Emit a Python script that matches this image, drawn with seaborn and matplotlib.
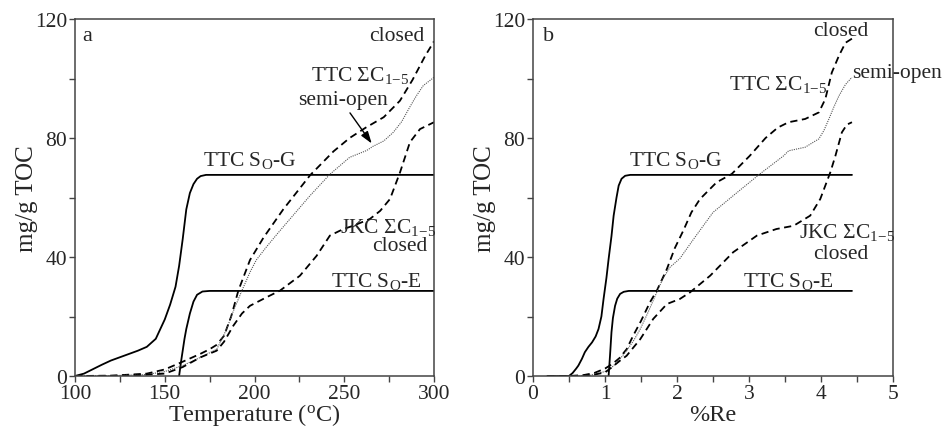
import matplotlib
matplotlib.use("Agg")
import matplotlib.pyplot as plt
from matplotlib.ticker import MultipleLocator
import seaborn as sns

# ---- panel a: yields vs temperature (deg C) ----
t_sog = [100, 105, 110, 115, 120, 125, 130, 135, 140, 145, 150, 153, 156, 158, 160, 162,
         164, 166, 168, 170, 173, 300]
sog_a = [0, 0.8, 2.3, 3.8, 5.2, 6.3, 7.4, 8.5, 9.8, 12.5, 19, 24, 30, 37, 46, 56,
         61.5, 64.5, 66.3, 67.2, 67.6, 67.6]

t_soe = [158, 159, 160, 161, 162, 164, 166, 168, 171, 175, 300]
soe_a = [0, 4.5, 8.5, 12.5, 15.8, 21, 25, 27.3, 28.4, 28.6, 28.6]

t_closed = [100, 120, 140, 150, 160, 170, 175, 179, 183, 187, 191, 197.5, 205, 216, 231,
            244, 253, 262, 272, 281, 288, 295, 300]
closed_a = [0, 0.1, 0.8, 2.2, 4.8, 7.5, 9, 10.5, 13.5, 20, 28.7, 39, 46.5, 56, 67.5,
            75.5, 80, 83.5, 87, 92.5, 99.5, 107.5, 112.5]

t_semi = [100, 120, 140, 150, 160, 170, 179, 184.5, 188, 192.9, 197.5, 201, 206.8, 213,
          219.8, 230.9, 242, 253, 262.5, 266, 272, 277.3, 282, 286.6, 290, 294, 300]
semi_a = [0, 0.1, 0.5, 1.5, 3.5, 6.3, 9, 15.8, 21.5, 28.6, 34.9, 39, 43.5, 48,
          52.8, 60.6, 67.8, 73.5, 75.8, 77.2, 79, 81.9, 85.5, 90.5, 94, 97.6, 100.4]

t_jkc = [100, 130, 150, 160, 170, 178.9, 183, 188.2, 193, 197.5, 206.8, 214.2, 225.3,
         234.6, 242, 249.5, 255, 264.3, 270, 275.5, 281.1, 286.6, 292.2, 300]
jkc_a = [0, 0.1, 0.8, 3, 6.3, 8.5, 11.5, 16.9, 21, 23.6, 26.5, 28.7, 33.7,
         40.4, 47.2, 49.4, 50.5, 52.8, 55.5, 59.5, 68.5, 78.6, 83, 85.3]

# ---- panel b: yields vs vitrinite reflectance (%Re) ----
re_sog = [0.2, 0.5, 0.55, 0.6, 0.63, 0.68, 0.72, 0.77, 0.82, 0.87, 0.91, 0.95, 0.98, 1.02,
          1.05, 1.09, 1.12, 1.16, 1.19, 1.23, 1.28, 1.35, 1.45, 4.43]
sog_b = [0, 0, 1, 2.5, 3.5, 5.8, 8, 9.8, 11.3, 13.3, 15.8, 20, 25.9, 33,
         39.3, 47, 53.9, 60, 64, 66.3, 67.3, 67.6, 67.6, 67.6]

re_soe = [1.05, 1.07, 1.09, 1.11, 1.14, 1.17, 1.21, 1.26, 1.33, 4.43]
soe_b = [0, 7, 14.7, 19.5, 23.6, 26, 27.6, 28.3, 28.6, 28.6]

re_closed = [0.2, 0.5, 0.7, 0.85, 1.0, 1.1, 1.2, 1.3, 1.39, 1.5, 1.625, 1.72, 1.86, 1.97,
             2.09, 2.2, 2.32, 2.55, 2.76, 3.01, 3.23, 3.4, 3.55, 3.78, 3.97, 4.06, 4.15,
             4.25, 4.34, 4.43]
closed_b = [0, 0, 0.3, 1, 2.5, 4, 6, 9, 13.5, 18.5, 24.8, 28.7, 36, 43,
            49, 55, 59.5, 65.1, 67.9, 74, 80, 83.5, 85.3, 86.4, 88.6, 93.1, 102,
            107.7, 112, 113.4]

re_semi = [0.2, 0.6, 0.8, 1.0, 1.1, 1.2, 1.3, 1.4, 1.49, 1.6, 1.72, 1.8, 1.9, 2.04, 2.23,
           2.5, 2.78, 3.15, 3.48, 3.55, 3.78, 3.97, 4.04, 4.11, 4.18, 4.25, 4.34, 4.43]
semi_b = [0, 0, 0.3, 1.5, 3, 5.5, 8.5, 12, 15.8, 21.5, 28.2, 32.5, 36.5, 39.5, 46,
          55, 60.6, 67.9, 74, 75.7, 76.9, 79.7, 82.5, 86.4, 90.5, 94.2, 98, 100.4]

re_jkc = [0.2, 0.6, 0.8, 1.0, 1.1, 1.2, 1.3, 1.49, 1.67, 1.86, 2.04, 2.18, 2.46, 2.78,
          3.11, 3.38, 3.62, 3.85, 3.99, 4.06, 4.13, 4.2, 4.29, 4.36, 4.43]
jkc_b = [0, 0, 0.2, 1.2, 3, 5, 6.8, 12.4, 19.2, 24.2, 25.9, 28.1, 33.7, 41.6,
         47.2, 49.4, 50.5, 53.9, 59.5, 64, 68.5, 74, 81.9, 84.5, 85.3]

sns.set_theme(style="ticks")
plt.rcParams["font.family"] = ["Liberation Serif", "DejaVu Serif"]
plt.rcParams["mathtext.fontset"] = "custom"
plt.rcParams["mathtext.rm"] = "Liberation Serif"
plt.rcParams["mathtext.it"] = "Liberation Serif:italic"
plt.rcParams["mathtext.bf"] = "Liberation Serif:bold"

fig = plt.figure(figsize=(9.44, 4.27), dpi=100)
ax_a = fig.add_axes([75 / 944, 50 / 427, 359 / 944, 357 / 427])
ax_b = fig.add_axes([533 / 944, 50 / 427, 360 / 944, 357 / 427])

SOLID = dict(color="black", lw=1.3, linestyle="-")
DASH = dict(color="black", lw=1.3, linestyle=(0, (4, 2.5)))
DOT = dict(color="#555555", lw=0.8, linestyle=(0, (1, 1)))


def draw(ax, xs, ys, style):
    sns.lineplot(x=xs, y=ys, ax=ax, sort=False, estimator=None, **style)


draw(ax_a, t_sog, sog_a, SOLID)
draw(ax_a, t_soe, soe_a, SOLID)
draw(ax_a, t_closed, closed_a, DASH)
draw(ax_a, t_semi, semi_a, DOT)
draw(ax_a, t_jkc, jkc_a, DASH)

draw(ax_b, re_sog, sog_b, SOLID)
draw(ax_b, re_soe, soe_b, SOLID)
draw(ax_b, re_closed, closed_b, DASH)
draw(ax_b, re_semi, semi_b, DOT)
draw(ax_b, re_jkc, jkc_b, DASH)

FS = 15.5
sog_lbl = r"TTC S$_\mathrm{O}$-G"
soe_lbl = r"TTC S$_\mathrm{O}$-E"
ttc_lbl = r"TTC ΣC$_\mathrm{1\!-\!5}$"
jkc_lbl = r"JKC ΣC$_\mathrm{1\!-\!5}$"

# panel a labels
ax_a.text(107, 114.5, "a", fontsize=16, ha="center", va="center")
ax_a.text(279.4, 114.3, "closed", fontsize=FS, ha="center", va="center")
ax_a.text(258.8, 101.5, ttc_lbl, fontsize=FS, ha="center", va="center")
ax_a.text(249.5, 93.1, "semi-open", fontsize=FS, ha="center", va="center")
ax_a.annotate("", xy=(266.2, 77.4), xytext=(252.3, 89.2),
              arrowprops=dict(arrowstyle="-|>,head_length=0.6,head_width=0.2",
                              color="black", lw=1.0))
ax_a.text(197.5, 72.9, sog_lbl, fontsize=FS, ha="center", va="center")
ax_a.text(274.5, 50.3, jkc_lbl, fontsize=FS, ha="center", va="center")
ax_a.text(281.1, 44.0, "closed", fontsize=FS, ha="center", va="center")
ax_a.text(268.1, 32, soe_lbl, fontsize=FS, ha="center", va="center")

# panel b labels
ax_b.text(0.22, 114.5, "b", fontsize=16, ha="center", va="center")
ax_b.text(4.27, 116, "closed", fontsize=FS, ha="center", va="center")
ax_b.text(5.06, 102, "semi-open", fontsize=FS, ha="center", va="center")
ax_b.text(3.41, 98.2, ttc_lbl, fontsize=FS, ha="center", va="center")
ax_b.text(1.98, 72.9, sog_lbl, fontsize=FS, ha="center", va="center")
ax_b.text(4.36, 48.6, jkc_lbl, fontsize=FS, ha="center", va="center")
ax_b.text(4.27, 41.3, "closed", fontsize=FS, ha="center", va="center")
ax_b.text(3.55, 32, soe_lbl, fontsize=FS, ha="center", va="center")

for ax in (ax_a, ax_b):
    ax.set_ylim(0, 120)
    ax.yaxis.set_major_locator(MultipleLocator(40))
    ax.yaxis.set_minor_locator(MultipleLocator(20))
    ax.set_ylabel("mg/g TOC", fontsize=18, labelpad=-2)
    ax.tick_params(which="both", direction="out", length=4.5, width=1.0,
                   color="#444444", labelsize=15.5)
    ax.tick_params(axis="y", pad=1)
    ax.tick_params(axis="x", pad=1.5)
    for sp in ax.spines.values():
        sp.set_visible(True)
        sp.set_color("#444444")
        sp.set_linewidth(1.1)

ax_a.set_xlim(100, 300)
ax_a.xaxis.set_major_locator(MultipleLocator(50))
ax_a.xaxis.set_minor_locator(MultipleLocator(25))
ax_a.set_xlabel(r"Temperature ($^\mathrm{o}$C)", fontsize=17.5, va="baseline")

ax_b.set_xlim(0, 5)
ax_b.xaxis.set_major_locator(MultipleLocator(1))
ax_b.xaxis.set_minor_locator(MultipleLocator(0.5))
ax_b.set_xlabel("%Re", fontsize=17.5, va="baseline")

# x-axis titles sit with their baseline ~44 px below the plotting area
for ax in (ax_a, ax_b):
    ax.xaxis.set_label_coords(0.5, -44 / 357)

fig.savefig("out.png", dpi=100)
